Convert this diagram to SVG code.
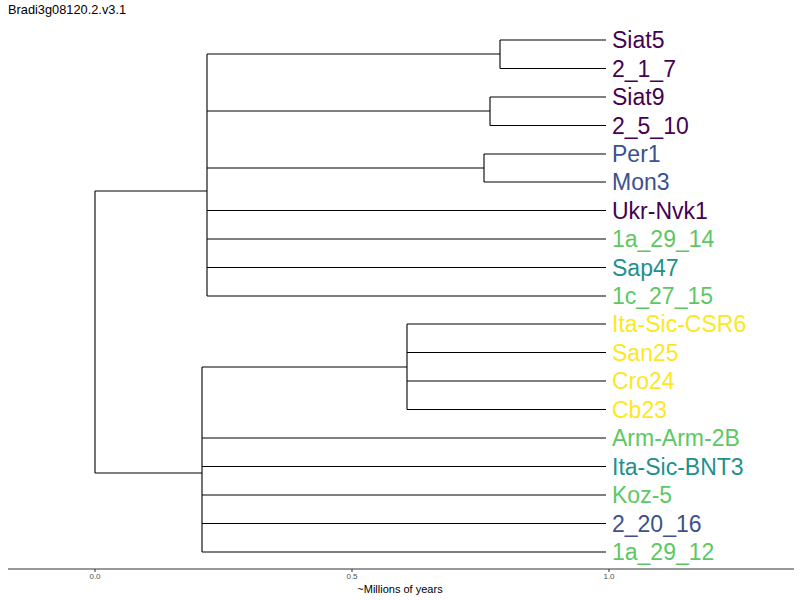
<svg xmlns="http://www.w3.org/2000/svg" width="800" height="600" viewBox="0 0 800 600">
<style>
.e{stroke:#000;stroke-width:1.1;fill:none}
.l{font-family:"Liberation Sans",Arial,sans-serif;font-size:23px}
.p{fill:#440154}.b{fill:#3B528B}.t{fill:#21908C}.g{fill:#5DC863}.y{fill:#FDE725}
.ax{stroke:#333;stroke-width:1;fill:none}
.tk{font-family:"Liberation Sans",Arial,sans-serif;font-size:8px;fill:#4d4d4d;text-anchor:middle}
</style>
<rect width="800" height="600" fill="#fff"/>
<text x="8" y="14" font-family="Liberation Sans,Arial,sans-serif" font-size="12.8" fill="#000">Bradi3g08120.2.v3.1</text>
<g id="connectors">
<path class="e" d="M95,191V473M95,191H207M95,473H202"/>
<path class="e" d="M207,54V296M207,54H500M207,111H490M207,168H484M207,210.5H606M207,239H606M207,267.5H606M207,296H606"/>
<path class="e" d="M500,40V68.5M500,40H606M500,68.5H606"/>
<path class="e" d="M490,97V125.5M490,97H606M490,125.5H606"/>
<path class="e" d="M484,154V182M484,154H606M484,182H606"/>
<path class="e" d="M202,367V552M202,367H407M202,438H606M202,466.5H606M202,495H606M202,523.5H606M202,552H606"/>
<path class="e" d="M407,324V409.5M407,324H606M407,352.5H606M407,381H606M407,409.5H606"/>
</g>
<g id="n1"><text class="l p" x="612" y="48">Siat5</text></g>
<g id="n2"><text class="l p" x="612" y="76.5">2_1_7</text></g>
<g id="n3"><text class="l p" x="612" y="105">Siat9</text></g>
<g id="n4"><text class="l p" x="612" y="133.5">2_5_10</text></g>
<g id="n5"><text class="l b" x="612" y="162">Per1</text></g>
<g id="n6"><text class="l b" x="612" y="190">Mon3</text></g>
<g id="n7"><text class="l p" x="612" y="218.5">Ukr-Nvk1</text></g>
<g id="n8"><text class="l g" x="612" y="247">1a_29_14</text></g>
<g id="n9"><text class="l t" x="612" y="275.5">Sap47</text></g>
<g id="n10"><text class="l g" x="612" y="304">1c_27_15</text></g>
<g id="n11"><text class="l y" x="612" y="332">Ita-Sic-CSR6</text></g>
<g id="n12"><text class="l y" x="612" y="360.5">San25</text></g>
<g id="n13"><text class="l y" x="612" y="389">Cro24</text></g>
<g id="n14"><text class="l y" x="612" y="417.5">Cb23</text></g>
<g id="n15"><text class="l g" x="612" y="446">Arm-Arm-2B</text></g>
<g id="n16"><text class="l t" x="612" y="474.5">Ita-Sic-BNT3</text></g>
<g id="n17"><text class="l g" x="612" y="503">Koz-5</text></g>
<g id="n18"><text class="l b" x="612" y="531.5">2_20_16</text></g>
<g id="n19"><text class="l g" x="612" y="560">1a_29_12</text></g>
<g id="axis">
<path class="ax" d="M8,569H794M95,569V572M352,569V572M609,569V572"/>
<text class="tk" x="95" y="579">0.0</text>
<text class="tk" x="352" y="579">0.5</text>
<text class="tk" x="609" y="579">1.0</text>
<text x="400" y="593" font-family="Liberation Sans,Arial,sans-serif" font-size="11" text-anchor="middle" fill="#000">~Millions of years</text>
</g>
</svg>
